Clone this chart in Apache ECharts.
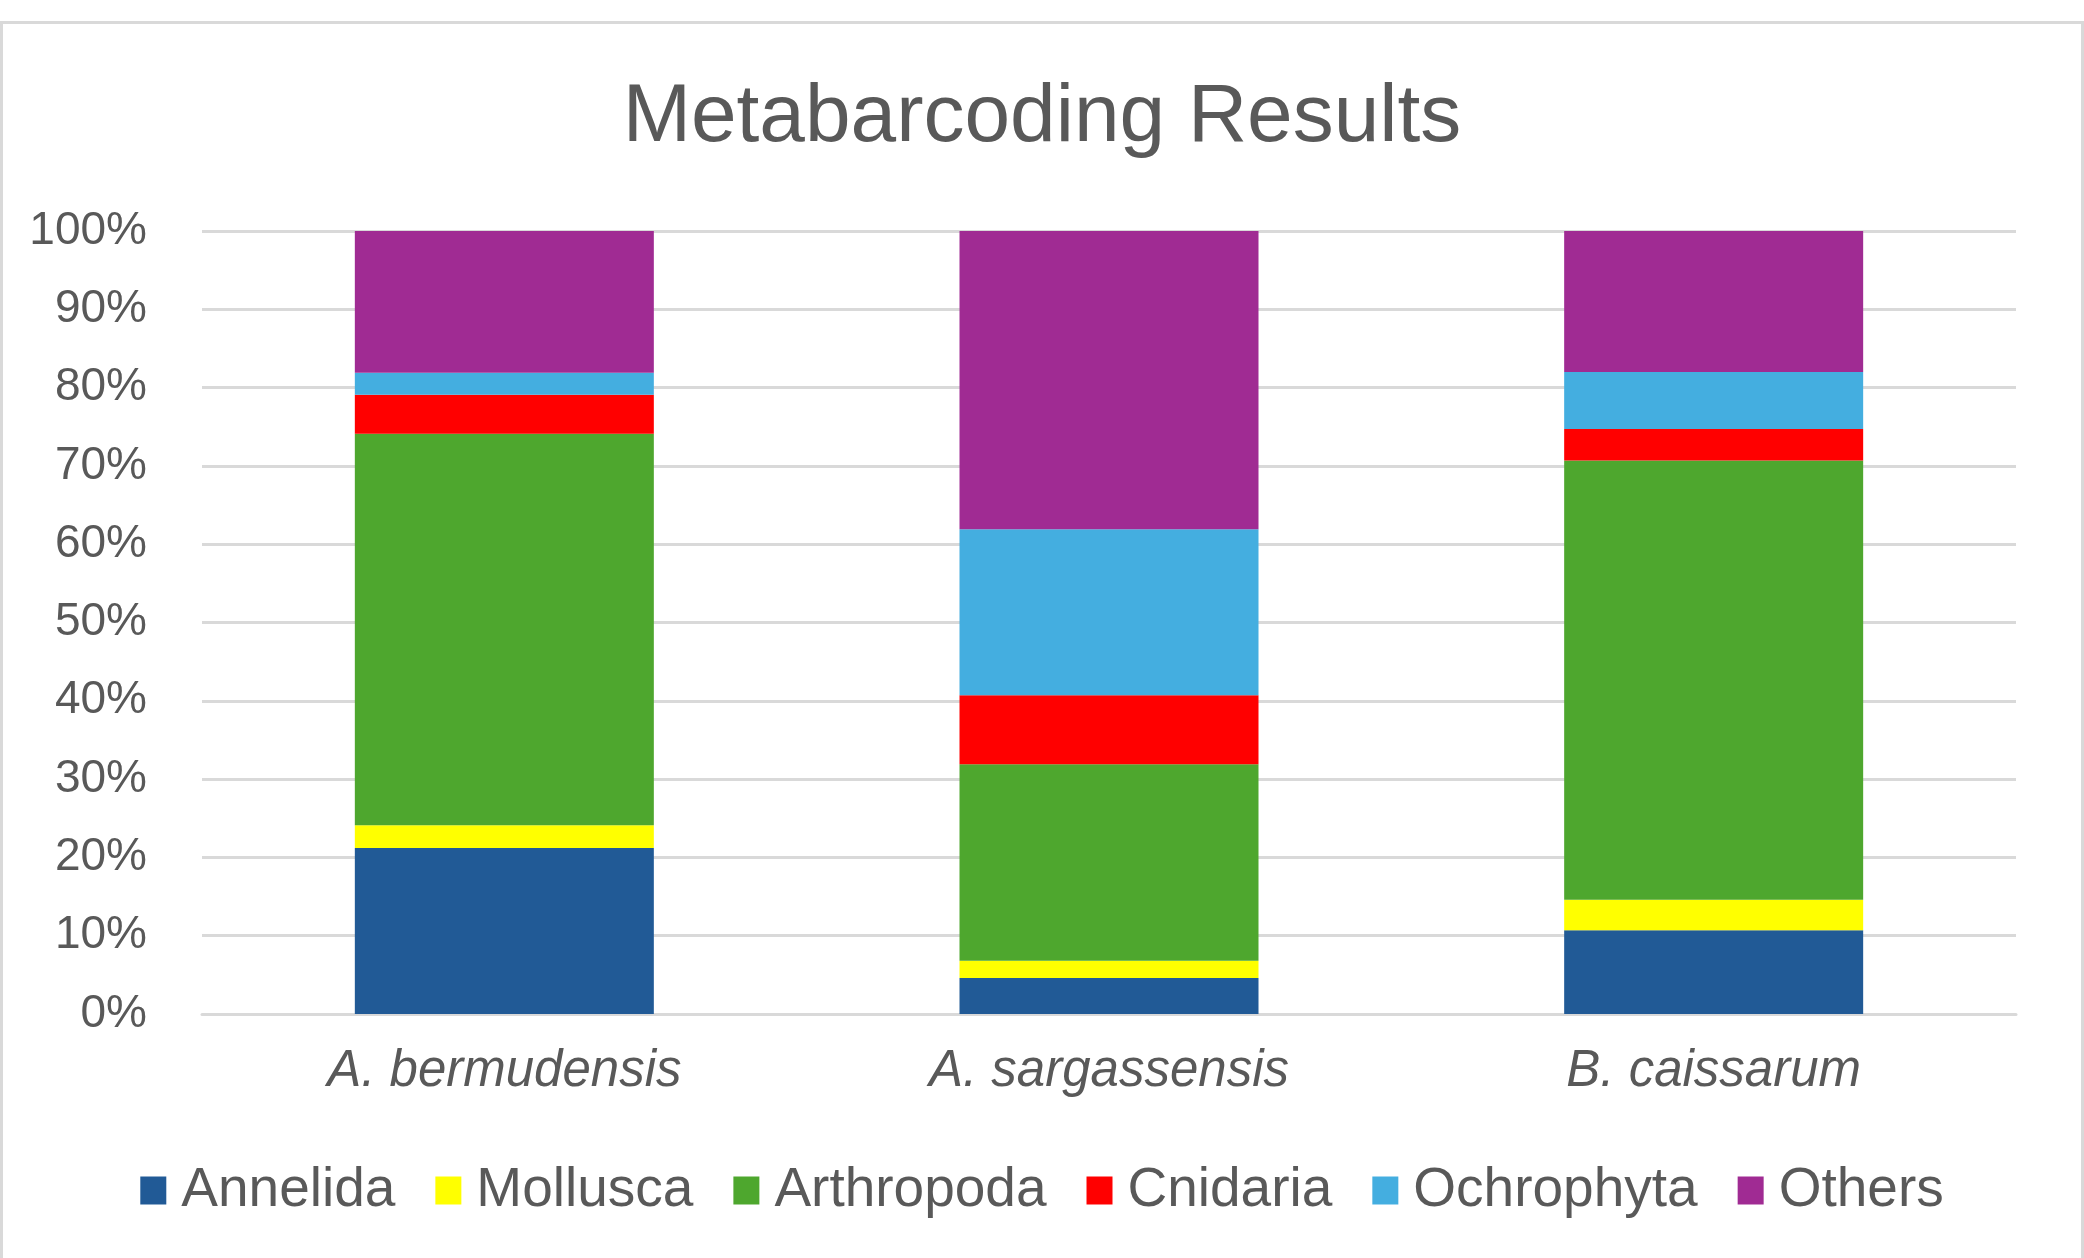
<!DOCTYPE html>
<html>
<head>
<meta charset="utf-8">
<script src="https://cdn.jsdelivr.net/npm/echarts@6/dist/echarts.min.js"></script>
<style>
html, body { margin: 0; padding: 0; background: #fff; }
#chart { position: absolute; left: 0; top: 0; width: 2084px; height: 1258px; }
#frame {
  position: absolute; left: 0; top: 21px; width: 2084px; height: 1237px;
  box-sizing: border-box; border: 3px solid #d9d9d9; border-bottom: none;
  pointer-events: none;
}
</style>
</head>
<body>
<div id="chart"></div>
<div id="frame"></div>
<script>
// species on the x axis
var species = ["A. bermudensis", "A. sargassensis", "B. caissarum"];

// share of reads per group (%)
var annelida   = [21.2, 4.6, 10.7];
var mollusca   = [2.9, 2.2, 3.9];
var arthropoda = [50.0, 25.1, 56.1];
var cnidaria   = [5.0, 8.8, 4.0];
var ochrophyta = [2.8, 21.2, 7.3];
var others     = [18.1, 38.1, 18.0];

var groupNames  = ["Annelida", "Mollusca", "Arthropoda", "Cnidaria", "Ochrophyta", "Others"];
var groupValues = [annelida, mollusca, arthropoda, cnidaria, ochrophyta, others];
var groupColors = ["#215a96", "#ffff00", "#4ea72e", "#ff0000", "#44aee0", "#a02b93"];

var chart = echarts.init(document.getElementById("chart"));

var series = [];
for (var i = 0; i < groupNames.length; i++) {
  series.push({
    name: groupNames[i],
    type: "bar",
    stack: "total",
    barWidth: 299,
    itemStyle: { color: groupColors[i] },
    data: groupValues[i]
  });
}

var option = {
  animation: false,
  title: {
    text: "Metabarcoding Results",
    left: "center",
    top: 72,
    textStyle: {
      fontFamily: "Liberation Sans",
      fontSize: 82,
      fontWeight: "normal",
      color: "#595959"
    }
  },
  color: groupColors,
  legend: {
    data: groupNames,
    left: "center",
    top: 1158,
    itemWidth: 26,
    itemHeight: 28,
    itemGap: 40,
    icon: "rect",
    textStyle: {
      fontFamily: "Liberation Sans",
      fontSize: 55,
      color: "#595959",
      padding: [0, 0, 0, 10]
    }
  },
  grid: {
    left: 202,
    right: 68,
    top: 231,
    bottom: 244
  },
  xAxis: {
    type: "category",
    data: species,
    axisLine: { lineStyle: { color: "#d9d9d9", width: 3 } },
    axisTick: { show: false },
    axisLabel: {
      margin: 32,
      fontFamily: "Liberation Sans",
      fontStyle: "italic",
      fontSize: 51,
      color: "#595959"
    }
  },
  yAxis: {
    type: "value",
    min: 0,
    max: 100,
    interval: 10,
    axisLine: { show: false },
    axisTick: { show: false },
    splitLine: { lineStyle: { color: "#d9d9d9", width: 3 } },
    axisLabel: {
      margin: 55,
      formatter: "{value}%",
      fontFamily: "Liberation Sans",
      fontSize: 46,
      color: "#595959",
      padding: [0, 0, 10, 0]
    }
  },
  series: series
};

chart.setOption(option);
</script>
</body>
</html>
